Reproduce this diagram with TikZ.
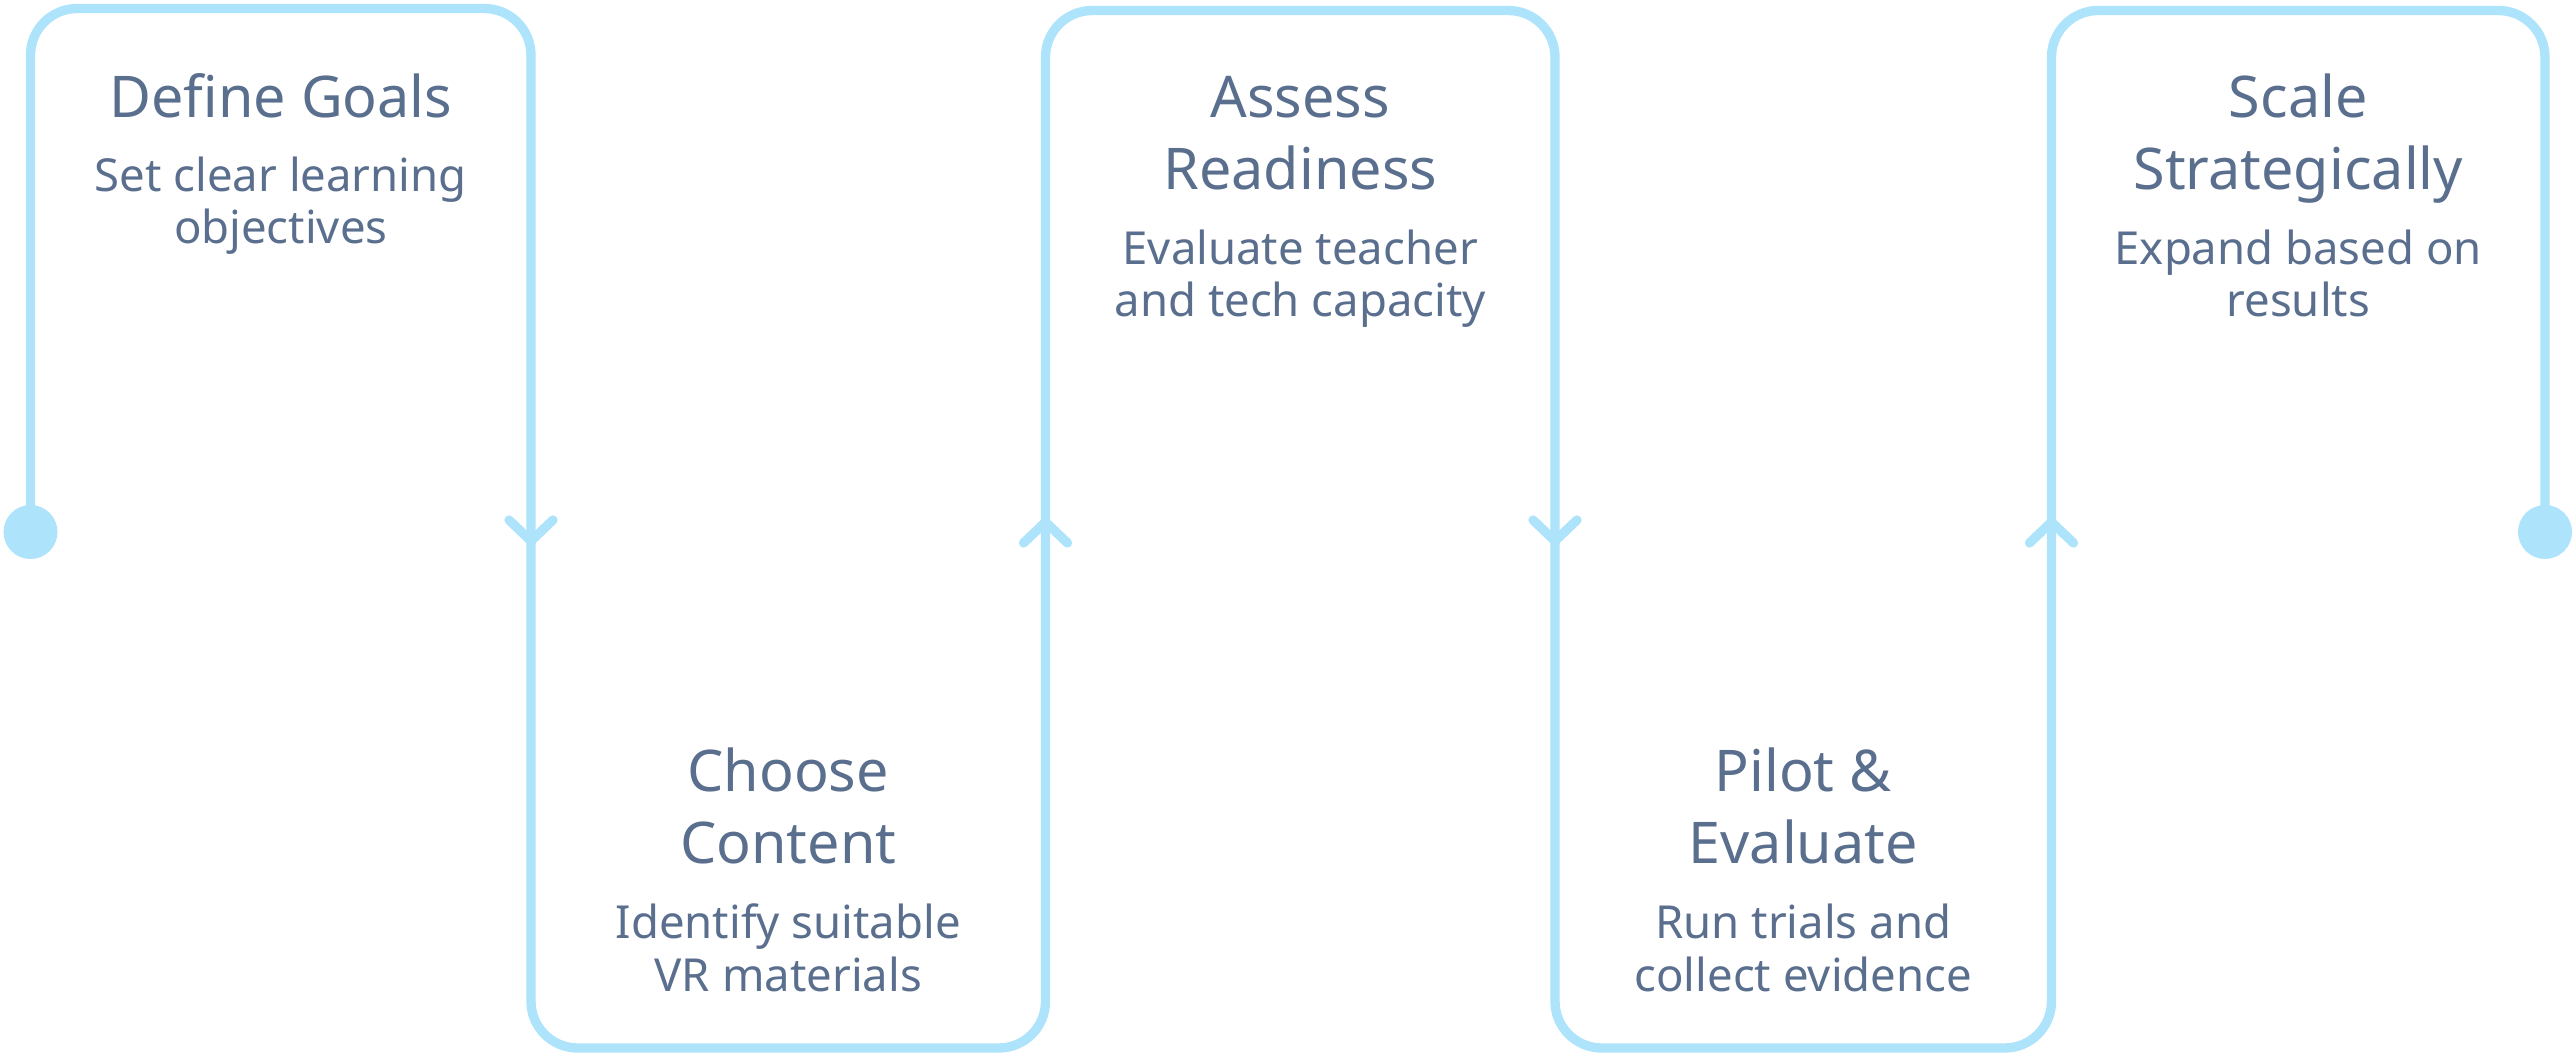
\documentclass[tikz,border=0pt]{standalone}
\usepackage{fontspec}
\setmainfont{Noto Sans}
\usetikzlibrary{calc}
\definecolor{flowblue}{HTML}{ADE3FB}
\definecolor{txtcol}{HTML}{5A6E8E}
\tikzset{
  flow/.style={draw=flowblue, line width=2.8pt, rounded corners=14pt},
  chev/.style={draw=flowblue, line width=2.8pt, line cap=round, line join=round},
  enddot/.style={circle, fill=flowblue, minimum size=16.2pt, inner sep=0pt},
  ttl/.style={anchor=base, text=txtcol, font=\fontsize{17.25}{20}\selectfont, inner sep=0pt},
  subt/.style={anchor=base, text=txtcol, font=\fontsize{13.65}{16}\selectfont, inner sep=0pt},
}
\begin{document}
\begin{tikzpicture}[x=0.3pt, y={(0pt,-0.3pt)}]
\useasboundingbox (0,0) rectangle (2572,1055);
% path corners
\coordinate (p0) at (30.5,532);
\coordinate (p1) at (30.5,8.5);
\coordinate (p2) at (531,8.5);
\coordinate (p3) at (531,1048);
\coordinate (p4) at (1045.5,1048);
\coordinate (p5) at (1045.5,10.5);
\coordinate (p6) at (1555,10.5);
\coordinate (p7) at (1555,1048);
\coordinate (p8) at (2051.5,1048);
\coordinate (p9) at (2051.5,10.5);
\coordinate (p10) at (2545,10.5);
\coordinate (p11) at (2545,532);
\draw[flow] (p0) -- (p1) -- (p2) -- (p3) -- (p4) -- (p5) -- (p6) -- (p7) -- (p8) -- (p9) -- (p10) -- (p11);
% arrow marks
\coordinate (a1) at (531,531);
\coordinate (a2) at (1045.5,531);
\coordinate (a3) at (1555,531);
\coordinate (a4) at (2051.5,531);
\draw[chev] ($(a1)+(-22,-11)$) -- ($(a1)+(0,10)$) -- ($(a1)+(22,-11)$);
\draw[chev] ($(a3)+(-22,-11)$) -- ($(a3)+(0,10)$) -- ($(a3)+(22,-11)$);
\draw[chev] ($(a2)+(-22,12)$) -- ($(a2)+(0,-9)$) -- ($(a2)+(22,12)$);
\draw[chev] ($(a4)+(-22,12)$) -- ($(a4)+(0,-9)$) -- ($(a4)+(22,12)$);
% end dots
\node[enddot] (dotL) at (p0) {};
\node[enddot] (dotR) at (p11) {};
% box 1
\node[ttl] (t1a) at (280.75,118) {Define Goals};
\node[subt] (s1a) at (280.75,192) {Set clear learning};
\node[subt] (s1b) at (280.75,244) {objectives};
% box 2
\node[ttl] (t2a) at (788.25,791) {Choose};
\node[ttl] (t2b) at (788.25,863) {Content};
\node[subt] (s2a) at (788.25,938) {Identify suitable};
\node[subt] (s2b) at (788.25,991) {VR materials};
% box 3
\node[ttl] (t3a) at (1300.25,118) {Assess};
\node[ttl] (t3b) at (1300.25,190) {Readiness};
\node[subt] (s3a) at (1300.25,265) {Evaluate teacher};
\node[subt] (s3b) at (1300.25,317) {and tech capacity};
% box 4
\node[ttl] (t4a) at (1803.25,791) {Pilot \&};
\node[ttl] (t4b) at (1803.25,863) {Evaluate};
\node[subt] (s4a) at (1803.25,938) {Run trials and};
\node[subt] (s4b) at (1803.25,991) {collect evidence};
% box 5
\node[ttl] (t5a) at (2298.25,118) {Scale};
\node[ttl] (t5b) at (2298.25,190) {Strategically};
\node[subt] (s5a) at (2298.25,265) {Expand based on};
\node[subt] (s5b) at (2298.25,317) {results};
\end{tikzpicture}
\end{document}
